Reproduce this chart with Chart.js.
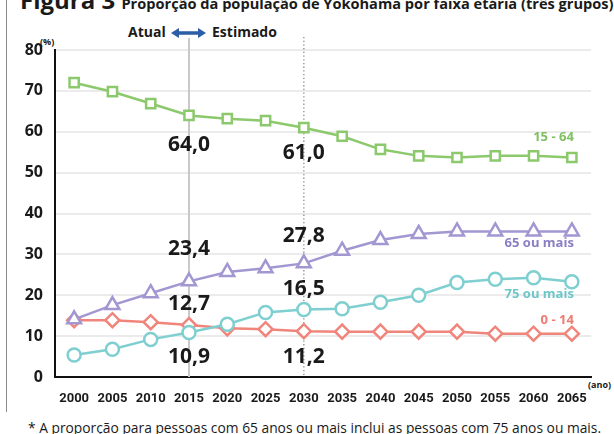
<!DOCTYPE html>
<html>
<head>
<meta charset="utf-8">
<script src="https://cdn.jsdelivr.net/npm/chart.js@4/dist/chart.umd.min.js"></script>
<style>
  html,body{margin:0;padding:0;background:#fff;}
  body{width:614px;height:434px;position:relative;overflow:hidden;font-family:"Open Sans",sans-serif;}
  #c{position:absolute;left:0;top:0;}
  .t{position:absolute;white-space:nowrap;font-weight:bold;color:#1a1a1a;}
  #border{position:absolute;left:6px;top:0;width:1px;height:412px;background:#8a8a8a;}
</style>
</head>
<body>
<div id="border"></div>
<div class="t" style="left:20px;top:-17px;font-size:24px;">Figura 3 <span style="font-size:14.6px;">Proporção da população de Yokohama por faixa etária (três grupos)</span></div>
<div class="t" style="left:128px;top:22px;font-size:14px;">Atual</div>
<div class="t" style="left:212px;top:22px;font-size:14px;">Estimado</div>
<div class="t" style="left:40px;top:35px;font-size:9px;">(%)</div>
<div class="t" style="left:588px;top:378px;font-size:9px;">(ano)</div>
<div class="t" style="left:28px;top:418px;font-size:13.8px;font-weight:normal;">* A proporção para pessoas com 65 anos ou mais inclui as pessoas com 75 anos ou mais.</div>
<canvas id="c" width="614" height="434"></canvas>
<script>
const years = ["2000","2005","2010","2015","2020","2025","2030","2035","2040","2045","2050","2055","2060","2065"];
const age15_64 = [72.0,69.8,66.9,64.0,63.2,62.7,61.0,58.9,55.7,54.1,53.7,54.1,54.1,53.7];
const age65plus = [14.1,17.6,20.5,23.4,25.7,26.6,27.8,30.9,33.5,35.0,35.6,35.6,35.6,35.6];
const age75plus = [5.4,6.8,9.2,10.9,12.9,15.8,16.5,16.7,18.3,20.0,23.1,23.9,24.3,23.3];
const age0_14 = [13.9,13.9,13.4,12.7,11.9,11.7,11.2,11.1,11.1,11.1,11.1,10.6,10.6,10.6];
const seriesNames = ["15 - 64","65 ou mais","75 ou mais","0 - 14"];
const yTicks = [0,10,20,30,40,50,60,70,80];
const currentYear = "2015";
const estimateYear = "2030";

const colors = ["#8cc96c","#a397d2","#7fcfd0","#f0857b"];
const textColors = ["#7fc062","#8a7fc4","#6fc6c8","#ee7b72"];

const fmt = v => v.toFixed(1).replace('.', ',');

const extras = {
  id:'extras',
  beforeDatasetsDraw(chart){
    const ctx = chart.ctx, x = chart.scales.x;
    const bottom = chart.chartArea.bottom;
    ctx.save();
    const xc = x.getPixelForValue(years.indexOf(currentYear));
    ctx.strokeStyle = '#c9c9c9'; ctx.lineWidth = 2;
    ctx.beginPath(); ctx.moveTo(xc, 38); ctx.lineTo(xc, bottom); ctx.stroke();
    const xe = x.getPixelForValue(years.indexOf(estimateYear));
    ctx.strokeStyle = '#8a8a8a'; ctx.lineWidth = 1.3; ctx.setLineDash([1.3,2.4]);
    ctx.beginPath(); ctx.moveTo(xe, 37); ctx.lineTo(xe, bottom); ctx.stroke();
    ctx.setLineDash([]);
    ctx.fillStyle = '#2a5ea6'; ctx.strokeStyle = '#2a5ea6'; ctx.lineWidth = 3.5;
    const ay = 33, a1 = 171, a2 = 206;
    ctx.beginPath(); ctx.moveTo(a1+6, ay); ctx.lineTo(a2-6, ay); ctx.stroke();
    ctx.beginPath(); ctx.moveTo(a1, ay); ctx.lineTo(a1+8, ay-5); ctx.lineTo(a1+8, ay+5); ctx.closePath(); ctx.fill();
    ctx.beginPath(); ctx.moveTo(a2, ay); ctx.lineTo(a2-8, ay-5); ctx.lineTo(a2-8, ay+5); ctx.closePath(); ctx.fill();
    ctx.restore();
  },
  afterDatasetsDraw(chart){
    const ctx = chart.ctx;
    ctx.save();
    const ann = [[0,currentYear,30],[0,estimateYear,25],[1,currentYear,-32],[1,estimateYear,-27],
                 [3,currentYear,-21],[2,estimateYear,-21],[2,currentYear,25],[3,estimateYear,26]];
    ctx.font = 'bold 21px "Open Sans"';
    ctx.fillStyle = '#1a1a1a'; ctx.textAlign = 'center'; ctx.textBaseline = 'middle';
    ann.forEach(([ds, yr, dy]) => {
      const i = years.indexOf(yr);
      const pt = chart.getDatasetMeta(ds).data[i];
      ctx.fillText(fmt(chart.data.datasets[ds].data[i]), pt.x, pt.y + dy);
    });
    const nameDy = [-20, 12, 13, -13];
    ctx.font = 'bold 13px "Open Sans"'; ctx.textAlign = 'right';
    seriesNames.forEach((n, ds) => {
      const meta = chart.getDatasetMeta(ds);
      const pt = meta.data[meta.data.length-1];
      ctx.fillStyle = textColors[ds];
      ctx.fillText(n, pt.x + 2, pt.y + nameDy[ds]);
    });
    ctx.restore();
  }
};

const mk = (label, data, color, style, r) => ({
  label, data, borderColor: color, backgroundColor:'#fff', borderWidth: 2.5,
  pointStyle: style, pointRadius: r, pointBorderWidth: 2.5, pointBackgroundColor:'#fff',
  pointBorderColor: color, tension: 0
});

new Chart(document.getElementById('c'), {
  type: 'line',
  data: {
    labels: years,
    datasets: [
      mk(seriesNames[0], age15_64, colors[0], 'rect', 6.5),
      mk(seriesNames[1], age65plus, colors[1], 'triangle', 8),
      mk(seriesNames[2], age75plus, colors[2], 'circle', 6.5),
      mk(seriesNames[3], age0_14, colors[3], 'rectRot', 7)
    ]
  },
  options: {
    responsive:false, animation:false, devicePixelRatio:1,
    layout:{padding:{left:0, top:50, right:23, bottom:0}},
    plugins:{legend:{display:false}, tooltip:{enabled:false}},
    scales:{
      x:{
        offset:true,
        grid:{display:false},
        border:{display:true, color:'#111', width:2},
        ticks:{color:'#1a1a1a', font:{family:'Roboto', weight:'bold', size:13}, padding:6, maxRotation:0, autoSkip:false},
        afterFit(s){ s.height = 57; }
      },
      y:{
        min:0, max:80,
        afterBuildTicks(s){ s.ticks = yTicks.map(v => ({value:v})); },
        grid:{color:'#ebebeb', lineWidth:2, drawTicks:false},
        border:{display:true, color:'#111', width:2},
        ticks:{color:'#1a1a1a', font:{family:'"Open Sans"', weight:'bold', size:16}, padding:12},
        afterFit(s){ s.width = 55; }
      }
    }
  },
  plugins:[extras]
});
</script>
</body>
</html>
